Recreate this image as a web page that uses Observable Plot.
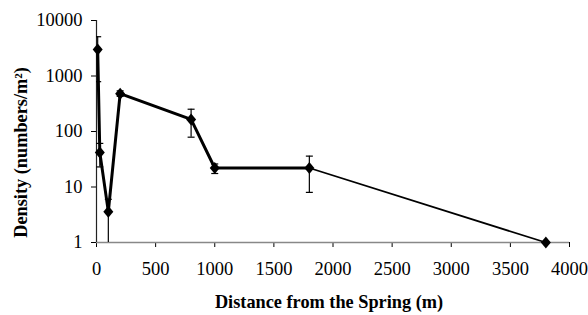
<!DOCTYPE html>
<html><head><meta charset="utf-8">
<script src="https://cdn.jsdelivr.net/npm/d3@7"></script>
<script src="https://cdn.jsdelivr.net/npm/@observablehq/plot@0.6"></script>
<style>
body{margin:0;background:#fff}
svg, svg text{font-family:"Times New Roman", "Liberation Serif", "DejaVu Serif", serif !important}
</style>
</head><body><div id="chart"></div>
<script>
const distance = [10, 28, 100, 200, 800, 1000, 1800, 3800];
const density  = [3000, 42, 3.6, 480, 165, 22, 22, 1];
const errLow   = [790, 23, 0.1, 430, 79, 17.5, 8, 1];
const errHigh  = [5100, 61, 6, 540, 252, 26, 36, 1];
const segment  = ["a", "a", "a", "a", "a", "a", "a", "b"];
const xTicks = [0, 500, 1000, 1500, 2000, 2500, 3000, 3500, 4000];
const yTicks = [1, 10, 100, 1000, 10000];
const xTitle = "Distance from the Spring (m)";
const yTitle = "Density (numbers/m\u00b2)";

const data = distance.map((d, i) => ({x: d, y: density[i], lo: errLow[i], hi: errHigh[i], seg: segment[i]}));
const thick = data.filter(d => d.seg === "a");
const thin = data.slice(data.findIndex(d => d.seg === "b") - 1);
const bars = data.filter(d => d.hi !== d.lo);

const diamond = {draw(ctx) { ctx.moveTo(0, -6); ctx.lineTo(5, 0); ctx.lineTo(0, 6); ctx.lineTo(-5, 0); ctx.closePath(); }};
const cap = {draw(ctx) { ctx.moveTo(-3.5, 0); ctx.lineTo(3.5, 0); }};
const FF = "'Times New Roman', 'Liberation Serif', 'DejaVu Serif', serif";

const chart = Plot.plot({
  width: 588, height: 315,
  marginLeft: 96, marginRight: 19, marginTop: 20, marginBottom: 73,
  style: {fontFamily: FF, fontSize: "18.5px", color: "#000", background: "#fff"},
  x: {domain: [0, 4000], ticks: xTicks},
  y: {type: "log", domain: [1, 10000], ticks: yTicks},
  marks: [
    Plot.axisX({ticks: xTicks, tickFormat: d => String(d), tickSize: 5, tickPadding: 14, label: null, stroke: "#000", fontSize: 18.5}),
    Plot.axisY({ticks: yTicks, tickFormat: d => String(d), tickSize: 5, tickPadding: 9, label: null, fontSize: 18.5}),
    Plot.ruleY([1], {stroke: "#888", strokeWidth: 1.5}),
    Plot.ruleX([0], {stroke: "#222", strokeWidth: 1.2}),
    Plot.ruleX(bars, {x: "x", y1: "lo", y2: "hi", stroke: "#000", strokeWidth: 1.2, clip: true}),
    Plot.dot(bars, {x: "x", y: "hi", symbol: cap, stroke: "#000", strokeWidth: 1.2, fill: "none", clip: true}),
    Plot.dot(bars, {x: "x", y: "lo", symbol: cap, stroke: "#000", strokeWidth: 1.2, fill: "none", clip: true}),
    Plot.line(thick, {x: "x", y: "y", stroke: "#000", strokeWidth: 3}),
    Plot.line(thin, {x: "x", y: "y", stroke: "#000", strokeWidth: 1.8}),
    Plot.dot(data, {x: "x", y: "y", symbol: diamond, fill: "#000", stroke: "none"}),
    Plot.text([yTitle], {frameAnchor: "left", textAnchor: "middle", dx: -75, dy: 21, rotate: -90, fontWeight: "bold", fontSize: 18.3, fill: "#000"}),
    Plot.text([xTitle], {frameAnchor: "bottom", textAnchor: "middle", dx: -4, dy: 65, fontWeight: "bold", fontSize: 18.3, fill: "#000"})
  ]
});
document.getElementById("chart").append(chart);
</script>
</body></html>
